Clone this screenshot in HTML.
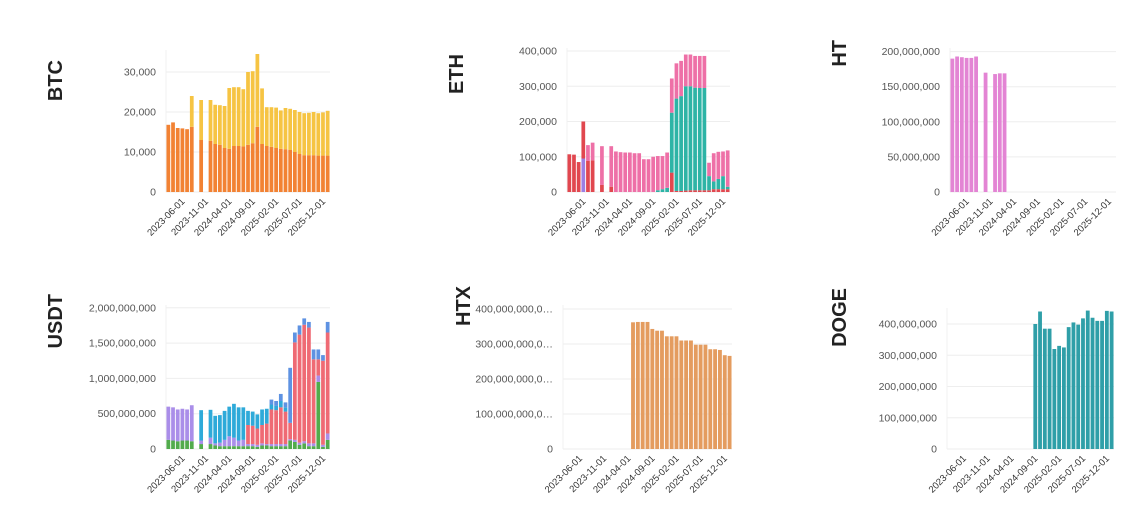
<!DOCTYPE html>
<html><head><meta charset="utf-8">
<style>
html,body{margin:0;padding:0;background:#fff;}
body{width:1140px;height:516px;overflow:hidden;position:relative;font-family:"Liberation Sans",sans-serif;}
svg{position:absolute;left:0;top:0;}
</style></head>
<body>
<svg id="c" width="1140" height="516"></svg>
<script>
const tickLabels=["2023-06-01","2023-11-01","2024-04-01","2024-09-01","2025-02-01","2025-07-01","2025-12-01"];
const tickIdx=[3,8,13,18,23,28,33];
const N=35;
const _=null;
// BTC
const btcOrange=[16800,17400,16000,15900,15700,16300,_,13000,_,12800,12000,11800,11000,10800,11500,11500,11400,11800,12200,16300,12000,11500,11300,11000,10800,10700,10500,10000,9500,9200,9200,9200,9100,9100,9100];
const btcYellow=[0,0,0,0,0,7700,_,10000,_,10200,9800,9900,10500,15200,14700,14700,14300,18200,18000,18200,13900,9700,9900,10100,9600,10300,10300,10500,10500,10500,10600,10800,10600,10800,11200];
// ETH
const ethPurple=[0,0,0,95000,0,0,_,0,_,0,0,0,0,0,0,0,0,0,0,0,0,0,0,0,0,0,0,0,0,0,0,0,0,0,0];
const ethRed=[107000,106000,85000,105000,88000,90000,_,20000,_,15000,0,0,0,0,0,0,0,0,0,0,0,0,55000,3000,3000,4000,5000,5000,5000,5000,5000,8000,8000,8000,8000];
const ethTeal=[0,0,0,0,0,0,_,0,_,0,0,0,0,0,0,0,0,0,0,5000,8000,12000,170000,262000,269000,296000,295000,291000,290000,290000,40000,22000,29000,37000,7000];
const ethPink=[0,0,0,0,45000,50000,_,110000,_,115000,115000,113000,112000,112000,110000,110000,93000,93000,100000,97000,94000,100000,97000,100000,100000,90000,90000,90000,91000,91000,38000,80000,77000,70000,103000];
// HT
const htPink=[190e6,193e6,192e6,191e6,191e6,193e6,_,170e6,_,168e6,169e6,169e6,_,_,_,_,_,_,_,_,_,_,_,_,_,_,_,_,_,_,_,_,_,_,_];
// USDT (millions)
const usdtGreen=[130,120,110,120,120,110,_,70,_,70,50,40,40,40,40,40,40,40,40,30,50,50,40,40,40,40,120,100,60,80,40,40,950,30,130];
const usdtPurple=[470,470,450,450,440,510,_,50,_,90,30,50,90,140,120,80,90,30,30,30,30,20,30,30,30,30,20,30,30,30,40,40,90,30,90];
const usdtRed=[0,0,0,0,0,0,_,0,_,0,0,0,0,0,0,0,0,270,260,230,260,290,490,480,520,460,230,1380,1530,1650,1640,1190,230,1190,1430];
const usdtCyan=[0,0,0,0,0,0,_,430,_,395,390,390,410,420,480,470,460,200,200,200,220,210,70,60,90,60,0,0,0,0,0,0,0,0,0];
const usdtBlue=[0,0,0,0,0,0,_,0,_,0,0,0,0,0,0,0,0,0,0,0,0,0,70,70,100,70,780,140,130,90,80,140,140,80,150];
// HTX (billions)
const htxVal=[_,_,_,_,_,_,_,_,_,_,_,_,_,_,362,363,363,363,343,338,338,322,322,322,310,310,310,298,298,298,285,285,283,268,266];
// DOGE (millions)
const dogeVal=[_,_,_,_,_,_,_,_,_,_,_,_,_,_,_,_,_,_,400,440,385,385,320,330,325,390,405,398,418,443,420,410,410,442,440];

const yBTC=[0,10000,20000,30000], yBTCl=["0","10,000","20,000","30,000"];
const yETH=[0,100000,200000,300000,400000], yETHl=["0","100,000","200,000","300,000","400,000"];
const yHT=[0,50e6,100e6,150e6,200e6], yHTl=["0","50,000,000","100,000,000","150,000,000","200,000,000"];
const yUSDT=[0,500,1000,1500,2000], yUSDTl=["0","500,000,000","1,000,000,000","1,500,000,000","2,000,000,000"];
const yHTX=[0,100,200,300,400], yHTXl=["0","100,000,000,0…","200,000,000,0…","300,000,000,0…","400,000,000,0…"];
const yDOGE=[0,100,200,300,400], yDOGEl=["0","100,000,000","200,000,000","300,000,000","400,000,000"];

const NS="http://www.w3.org/2000/svg";
const svg=document.getElementById('c');
function mk(t,a,p){const e=document.createElementNS(NS,t);for(const k in a)e.setAttribute(k,a[k]);(p||svg).appendChild(e);return e;}

function chart(o){
  const g=mk('g',{});
  
  
  const xs=i=>o.x0+(o.x1-o.x0)*(i+0.5)/N;
  const ys=v=>o.y0-v*o.ppu;
  const t=mk('text',{x:0,y:0,transform:`translate(${o.tx},${o.ty}) rotate(-90)`,'font-size':20,'font-weight':'bold',fill:'#222','text-anchor':'end'},g);
  t.textContent=o.name;
  
  
  o.yt.forEach((v,k)=>{
    const y=ys(v);
    const l=mk('line',{x1:o.x0,x2:o.x1,y1:y,y2:y,stroke:'#eeeeee','stroke-width':1},g);
    
    
    const tx=mk('text',{x:o.x0-10,y:y+3.5,'font-size':10.5,fill:'#555','text-anchor':'end'},g);
    tx.textContent=o.yl[k];
    
    
  });
  const ax=mk('line',{x1:o.x0,x2:o.x0,y1:o.y0,y2:o.top,stroke:'#f0f0f0'},g);
  
  
  const bw=(o.x1-o.x0)/N*0.8;
  for(let i=0;i<N;i++){
    let acc=0;
    o.series.forEach((s,si)=>{
      const v=s[i];
      if(v==null||v<=0)return;
      const yA=ys(acc),yB=ys(acc+v);
      const r=mk('rect',{x:xs(i)-bw/2,y:yB,width:bw,height:yA-yB,fill:o.colors[si]},g);
      
      
      acc+=v;
    });
  }
  tickIdx.forEach((ti,k)=>{
    const x=xs(ti)+3,y=o.y0+10;
    const tx=mk('text',{x:0,y:0,transform:`translate(${x},${y}) rotate(-45)`,'font-size':9.5,fill:'#333','text-anchor':'end'},g);
    tx.textContent=tickLabels[k];
    
    
  });
}
chart({name:'BTC',x0:166,x1:330,y0:192,top:50,ppu:40/10000,tx:62,ty:60,yt:yBTC,yl:yBTCl,series:[btcOrange,btcYellow],colors:['#f28233','#f6c443']});
chart({name:'ETH',x0:567,x1:730,y0:192,top:48,ppu:35.25/100000,tx:463,ty:54,yt:yETH,yl:yETHl,series:[ethPurple,ethRed,ethTeal,ethPink],colors:['#9d7fe3','#e1474f','#2db4a6','#ee70a7']});
chart({name:'HT',x0:950,x1:1116,y0:192,top:48,ppu:35.1/50e6,tx:846,ty:40,yt:yHT,yl:yHTl,series:[htPink],colors:['#e384d4']});
chart({name:'USDT',x0:166,x1:330,y0:449,top:305,ppu:35.3/500,tx:62,ty:294,yt:yUSDT,yl:yUSDTl,series:[usdtGreen,usdtPurple,usdtRed,usdtCyan,usdtBlue],colors:['#52ab4c','#aa8ee9','#ef6a74','#2eaad9','#5e92e2']});
chart({name:'HTX',x0:563,x1:732,y0:449,top:305,ppu:35/100,tx:470,ty:286,yt:yHTX,yl:yHTXl,series:[htxVal],colors:['#e49c5f']});
chart({name:'DOGE',x0:947,x1:1114,y0:449,top:308,ppu:31.25/100,tx:846,ty:288,yt:yDOGE,yl:yDOGEl,series:[dogeVal],colors:['#2f9fa8']});
</script>
</body></html>
